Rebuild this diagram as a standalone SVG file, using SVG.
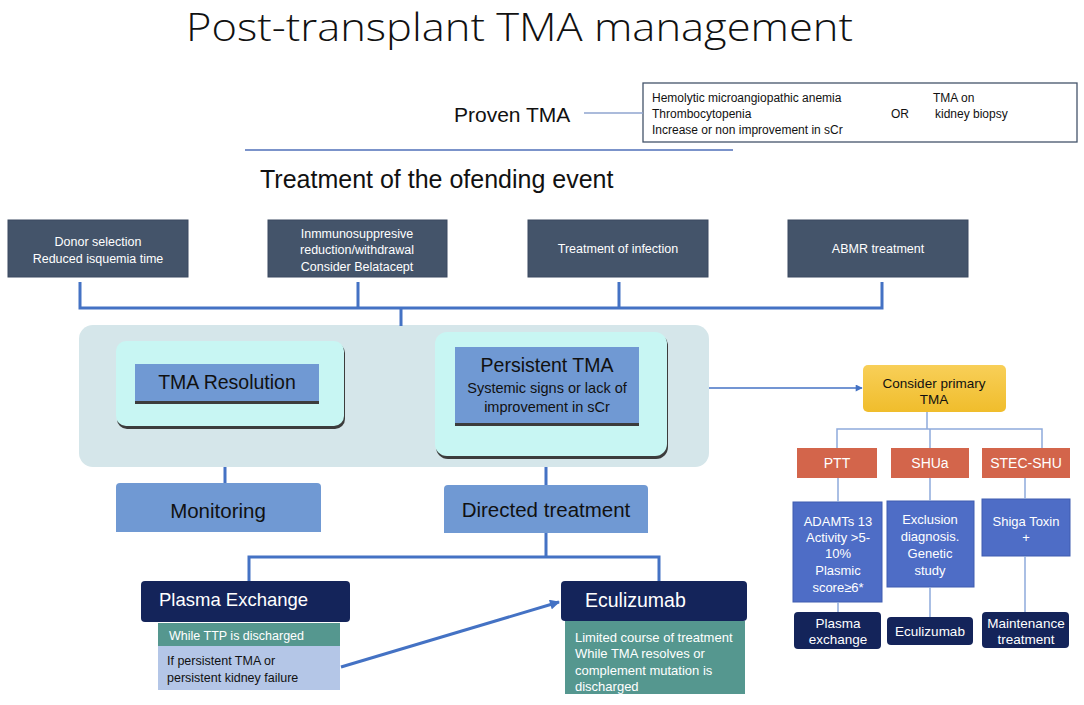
<svg xmlns="http://www.w3.org/2000/svg" width="1084" height="705" viewBox="0 0 1084 705">
<defs>
<style>
text{font-family:"Liberation Sans",Arial,sans-serif;}
.ttl{font-family:"Open Sans","Liberation Sans",sans-serif;font-weight:300;}
.w{fill:#ffffff;}
.k{fill:#111111;}
.c{text-anchor:middle;}
.slate{fill:#44546A;stroke:#3A4960;stroke-width:1;}
.thick{fill:none;stroke:#4472C4;stroke-width:3;}
.thin{fill:none;stroke:#8FAADC;stroke-width:1.5;}
.navy{fill:#14245A;}
.teal{fill:#55978F;}
.peri{fill:#B4C6E7;}
.midb{fill:#7099D3;}
.red{fill:#D3654B;}
.rb{fill:#4E6DC6;stroke:#3F5DB0;stroke-width:1;}
.cyan{fill:#C8F6F3;}
.shadow{fill:#3C3C3C;}
</style>
<linearGradient id="yel" x1="0" y1="0" x2="0" y2="1">
<stop offset="0" stop-color="#F8CF58"/>
<stop offset="1" stop-color="#F0BD2C"/>
</linearGradient>
<marker id="ah" viewBox="0 0 10 10" refX="9" refY="5" markerWidth="8" markerHeight="7" markerUnits="userSpaceOnUse" orient="auto">
<path d="M0,0 L10,5 L0,10 z" fill="#4472C4"/>
</marker>
<marker id="ah2" viewBox="0 0 10 10" refX="9" refY="5" markerWidth="11" markerHeight="10" markerUnits="userSpaceOnUse" orient="auto">
<path d="M0,0 L10,5 L0,10 z" fill="#4472C4"/>
</marker>
</defs>
<rect width="1084" height="705" fill="#ffffff"/>

<g id="title">
<text x="186" y="41" font-size="38.5" textLength="667" lengthAdjust="spacingAndGlyphs" class="ttl k">Post-transplant TMA management</text>
</g>

<g id="proven">
<text x="454" y="122" font-size="21" class="k">Proven TMA</text>
</g>
<g id="criteria">
<rect x="643" y="83" width="434" height="59" fill="#ffffff" stroke="#44546A" stroke-width="1.3"/>
<text x="652" y="102" font-size="12" class="k">Hemolytic microangiopathic anemia</text>
<text x="652" y="118" font-size="12" class="k">Thrombocytopenia</text>
<text x="652" y="134" font-size="12" class="k">Increase or non improvement in sCr</text>
<text x="891" y="118" font-size="12" class="k">OR</text>
<text x="933" y="102" font-size="12" class="k">TMA on</text>
<text x="935" y="118" font-size="12" class="k">kidney biopsy</text>
</g>

<g id="heading">
<text x="260" y="188" font-size="25" class="k">Treatment of the ofending event</text>
</g>

<g id="donor">
<rect class="slate" x="8" y="220" width="180" height="57"/>
<text x="98" y="246" font-size="12.5" class="w c">Donor selection</text>
<text x="98" y="263" font-size="12.5" class="w c">Reduced isquemia time</text>
</g>
<g id="immuno">
<rect class="slate" x="268" y="220" width="179" height="57"/>
<text x="357" y="238" font-size="12.5" class="w c">Inmmunosuppresive</text>
<text x="357" y="254" font-size="12.5" class="w c">reduction/withdrawal</text>
<text x="357" y="271" font-size="12.5" class="w c">Consider Belatacept</text>
</g>
<g id="infection">
<rect class="slate" x="528" y="220" width="180" height="57"/>
<text x="618" y="253" font-size="12.5" class="w c">Treatment of infection</text>
</g>
<g id="abmr">
<rect class="slate" x="788" y="220" width="180" height="57"/>
<text x="878" y="253" font-size="12.5" class="w c">ABMR treatment</text>
</g>

<g id="container">
<rect x="79" y="325" width="630" height="142" rx="14" fill="#D5E6EA"/>
</g>
<g id="tma-resolution">
<rect class="shadow" x="117" y="343" width="228" height="86" rx="10"/>
<rect class="cyan" x="116" y="341" width="228" height="85" rx="10"/>
<rect class="shadow" x="135" y="366" width="184" height="38"/>
<rect class="midb" x="135" y="364" width="184" height="37"/>
<text x="227" y="389" font-size="19.5" class="k c">TMA Resolution</text>
</g>
<g id="persistent">
<rect class="shadow" x="436" y="334" width="232" height="125" rx="12"/>
<rect class="cyan" x="435" y="332" width="232" height="124" rx="12"/>
<rect class="shadow" x="455" y="349" width="184" height="77"/>
<rect class="midb" x="455" y="347" width="184" height="76"/>
<text x="547" y="372" font-size="19.5" class="k c">Persistent TMA</text>
<text x="547" y="393" font-size="14.5" class="k c">Systemic signs or lack of</text>
<text x="547" y="412" font-size="14.5" class="k c">improvement in sCr</text>
</g>

<g id="monitoring">
<path class="midb" d="M116,487 a4,4 0 0 1 4,-4 h197 a4,4 0 0 1 4,4 v45 h-205 z"/>
<text x="218" y="518" font-size="20.5" class="k c">Monitoring</text>
</g>
<g id="directed">
<path class="midb" d="M444,489 a4,4 0 0 1 4,-4 h196 a4,4 0 0 1 4,4 v44 h-204 z"/>
<text x="546" y="517" font-size="20.5" class="k c">Directed treatment</text>
</g>

<g id="plasma-exchange">
<rect class="navy" x="141" y="581" width="209" height="41" rx="4"/>
<text x="159" y="606" font-size="18.5" class="w">Plasma Exchange</text>
<rect class="teal" x="158" y="623" width="182" height="23"/>
<text x="169" y="640" font-size="12.5" class="w">While TTP is discharged</text>
<rect class="peri" x="158" y="646" width="182" height="44"/>
<text x="167" y="665" font-size="12.5" class="k">If persistent TMA or</text>
<text x="167" y="682" font-size="12.5" class="k">persistent kidney failure</text>
</g>
<g id="eculizumab">
<rect class="navy" x="561" y="581" width="186" height="40" rx="4"/>
<text x="585" y="607" font-size="19.5" class="w">Eculizumab</text>
<rect class="teal" x="565" y="621" width="180" height="73"/>
<text x="575" y="642" font-size="13" class="w">Limited course of treatment</text>
<text x="575" y="658" font-size="13" class="w">While TMA resolves or</text>
<text x="575" y="675" font-size="13" class="w">complement mutation is</text>
<text x="575" y="691" font-size="13" class="w">discharged</text>
</g>

<g id="consider">
<rect x="863" y="365" width="143" height="47" rx="5" fill="url(#yel)"/>
<text x="934" y="388" font-size="13.5" class="k c">Consider primary</text>
<text x="934" y="404" font-size="13.5" class="k c">TMA</text>
</g>
<g id="ptt">
<rect class="red" x="797" y="448" width="80" height="30"/>
<text x="837" y="468" font-size="14" class="w c">PTT</text>
</g>
<g id="shua">
<rect class="red" x="891" y="448" width="78" height="30"/>
<text x="930" y="468" font-size="14" class="w c">SHUa</text>
</g>
<g id="stec">
<rect class="red" x="982" y="448" width="88" height="30"/>
<text x="1026" y="468" font-size="14" class="w c">STEC-SHU</text>
</g>
<g id="adamts">
<rect class="rb" x="793" y="502" width="89" height="100"/>
<text x="838" y="526" font-size="13" class="w c">ADAMTs 13</text>
<text x="838" y="542" font-size="13" class="w c">Activity &gt;5-</text>
<text x="838" y="558" font-size="13" class="w c">10%</text>
<text x="838" y="575" font-size="13" class="w c">Plasmic</text>
<text x="838" y="592" font-size="13" class="w c">score≥6*</text>
</g>
<g id="exclusion">
<rect class="rb" x="887" y="501" width="87" height="86"/>
<text x="930" y="524" font-size="13" class="w c">Exclusion</text>
<text x="930" y="541" font-size="13" class="w c">diagnosis.</text>
<text x="930" y="558" font-size="13" class="w c">Genetic</text>
<text x="930" y="575" font-size="13" class="w c">study</text>
</g>
<g id="shiga">
<rect class="rb" x="982" y="499" width="88" height="57"/>
<text x="1026" y="526" font-size="13" class="w c">Shiga Toxin</text>
<text x="1026" y="542" font-size="13" class="w c">+</text>
</g>
<g id="plasma-exchange-r">
<rect class="navy" x="794" y="612" width="87" height="37" rx="4"/>
<text x="838" y="628" font-size="13.5" class="w c">Plasma</text>
<text x="838" y="644" font-size="13.5" class="w c">exchange</text>
</g>
<g id="eculizumab-r">
<rect class="navy" x="887" y="617" width="86" height="28" rx="4"/>
<text x="930" y="636" font-size="13.5" class="w c">Eculizumab</text>
</g>
<g id="maintenance">
<rect class="navy" x="982" y="612" width="87" height="36" rx="4"/>
<text x="1026" y="628" font-size="13.5" class="w c">Maintenance</text>
<text x="1026" y="644" font-size="13.5" class="w c">treatment</text>
</g>

<g id="connectors">
<line x1="584" y1="113" x2="643" y2="113" stroke="#8FA4CF" stroke-width="1.3"/>
<line x1="245" y1="150" x2="733" y2="150" stroke="#4F6FB8" stroke-width="1.6"/>
<path class="thick" d="M80,282 V308 H882 V282 M358,282 V308 M619,282 V308 M401,308 V326"/>
<path class="thick" d="M225,467 V483 M546,467 V485"/>
<path class="thick" d="M546,533 V557 M249,581 V557 H659 V581"/>
<line x1="709" y1="388" x2="862" y2="388" stroke="#4472C4" stroke-width="1.5" marker-end="url(#ah)"/>
<line x1="341" y1="667" x2="559" y2="602" stroke="#4472C4" stroke-width="3" marker-end="url(#ah2)"/>
<path class="thin" d="M927,412 V429 M837,448 V429 H1042 V448 M930,429 V448"/>
<path class="thin" d="M838,478 V502 M930,478 V501 M1025,478 V499"/>
<path class="thin" d="M838,602 V612 M930,587 V617 M1025,556 V612"/>
</g>
</svg>
